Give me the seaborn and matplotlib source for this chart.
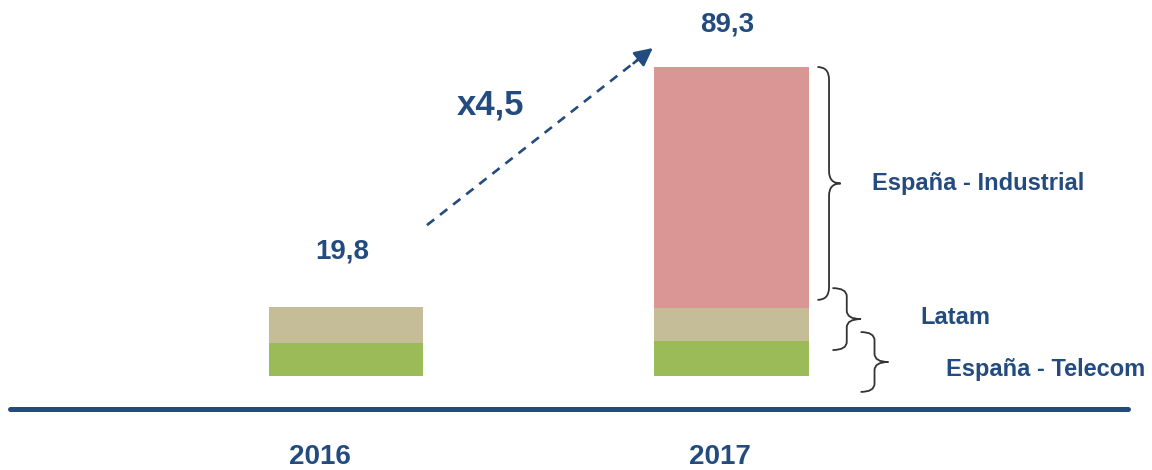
import numpy as np
import pandas as pd
from matplotlib import pyplot as plt
from matplotlib.path import Path
from matplotlib.patches import PathPatch
import seaborn as sns

# data
years = ["2016", "2017"]
telecom = [9.6, 10.1]      # España - Telecom
latam = [10.2, 9.6]        # Latam
industrial = [0.0, 69.6]   # España - Industrial
totals = ["19,8", "89,3"]
growth = "x4,5"
segment_names = ["España - Industrial", "Latam", "España - Telecom"]

BLUE = "#234B7F"
colors = {"telecom": "#9BBB59", "latam": "#C4BD97", "industrial": "#D99694"}

sns.set_theme(style="white")
plt.rcParams["font.family"] = ["Liberation Sans", "DejaVu Sans"]

df = pd.DataFrame({"year": years, "telecom": telecom, "latam": latam, "industrial": industrial})
df["c1"] = df["telecom"]
df["c2"] = df["c1"] + df["latam"]
df["c3"] = df["c2"] + df["industrial"]

fig = plt.figure(figsize=(11.52, 4.70), dpi=100)
ax = fig.add_axes([0, 0, 1, 1])

# stacked bars: draw cumulative heights from the top layer down
for col, key in [("c3", "industrial"), ("c2", "latam"), ("c1", "telecom")]:
    sns.barplot(data=df, x="year", y=col, color=colors[key], width=0.4,
                saturation=1, linewidth=0, ax=ax)

ax.set_xlim(-0.8975, 2.0908)
ax.set_ylim(-27.17, 108.67)
ax.axis("off")

# base line
ax.axhline(-9.5, xmin=10 / 1152, xmax=1128 / 1152, color=BLUE, lw=3.6)

# year labels (sit a little left of the bar centres on the slide)
year_dx = [-0.068, -0.03]
for i, y in enumerate(years):
    ax.text(i + year_dx[i], -23.4, y, ha="center", va="center", fontsize=20,
            fontweight="bold", color=BLUE)

# total labels
pads = [16.3, 12.4]
for i, t in enumerate(totals):
    ax.text(i - 0.01, df["c3"][i] + pads[i], t, ha="center", va="center",
            fontsize=20, fontweight="bold", color=BLUE)

# growth arrow
x0, y0, x1, y1 = 0.21, 43.6, 0.796, 94.8
ax.plot([x0, x1 - 0.03], [y0, y1 - 2.6], ls=(0, (3.5, 2.8)), lw=1.9, color=BLUE)
ax.annotate("", xy=(x1, y1), xytext=(x1 - 0.05, y1 - 4.4),
            arrowprops=dict(arrowstyle="-|>,head_length=0.9,head_width=0.45",
                            color=BLUE, lw=1.9, shrinkA=0, shrinkB=0))
ax.text(0.376, 78.4, growth, ha="center", va="center", fontsize=25,
        fontweight="bold", color=BLUE)


def brace(ax, xl, top, bot, width, r):
    xm = xl + width * 0.5
    xr = xl + width
    mid = (top + bot) / 2
    verts = [(xl, top), (xm, top), (xm, top - r), (xm, mid + r),
             (xm, mid), (xr, mid), (xm, mid), (xm, mid - r),
             (xm, bot + r), (xm, bot), (xl, bot)]
    codes = [Path.MOVETO, Path.CURVE3, Path.CURVE3, Path.LINETO,
             Path.CURVE3, Path.CURVE3, Path.CURVE3, Path.CURVE3,
             Path.LINETO, Path.CURVE3, Path.CURVE3]
    ax.add_patch(PathPatch(Path(verts, codes), fill=False, ec="#333333", lw=1.3))
    return mid


# braces and segment labels (brace spans in data units, staggered as in the slide)
brace_spans = [(89.3, 22.0), (25.4, 7.5), (12.7, -4.6)]
brace_x = [1.223, 1.262, 1.335]
brace_w = [0.060, 0.074, 0.072]
brace_r = [3.6, 2.4, 2.4]
label_x = [1.364, 1.489, 1.556]
label_dy = [0.0, 0.4, -2.3]
for k, name in enumerate(segment_names):
    mid = brace(ax, brace_x[k], brace_spans[k][0], brace_spans[k][1], brace_w[k], brace_r[k])
    ax.text(label_x[k], mid + label_dy[k], name, ha="left", va="center",
            fontsize=17, fontweight="bold", color=BLUE)

fig.savefig("out.png", dpi=100)
